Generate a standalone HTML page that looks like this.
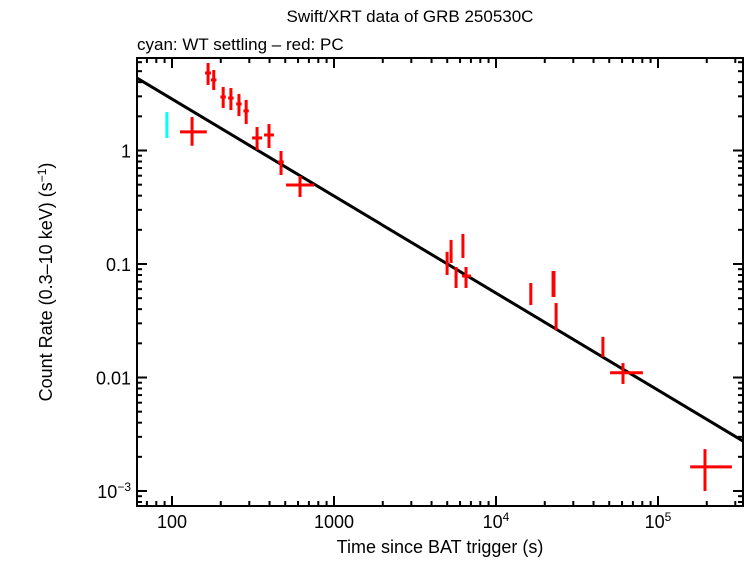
<!DOCTYPE html>
<html><head><meta charset="utf-8"><style>
body{margin:0;background:#fff}
svg text{font-family:"Liberation Sans",sans-serif;fill:#000}
</style></head><body>
<svg id="chart" width="746" height="558" xmlns="http://www.w3.org/2000/svg">
<text x="410" y="22" font-size="17" text-anchor="middle">Swift/XRT data of GRB 250530C</text>
<text x="137" y="50" font-size="17">cyan: WT settling – red: PC</text>
<text x="440" y="553" font-size="18" text-anchor="middle">Time since BAT trigger (s)</text>
<text transform="translate(52,282) rotate(-90)" font-size="18" text-anchor="middle">Count Rate (0.3–10 keV) (s<tspan dy="-6" font-size="12">−1</tspan><tspan dy="6">)</tspan></text>
<g id="grid"></g><g id="marks"></g>
</svg>
<script>
const xTickVals=[100,1000,10000,100000];
const xTickLabels=["100","1000","10^4","10^5"];
const yTickVals=[1,0.1,0.01,0.001];
const yTickLabels=["1","0.1","0.01","10^-3"];
const wtT=[93],wtTlo=[91],wtThi=[95],wtR=[1.68],wtRlo=[1.29],wtRhi=[2.18];
const pcT=[133,167,181,207,231,259,287,335,397,471,617,4990,5280,5670,6250,6530,16400,22500,22800,23500,45700,60800,195000];
const pcTlo=[112,160,174,199,222,249,276,312,370,452,506,4900,5180,5550,6130,6170,16100,22200,22500,23200,45000,50600,158000];
const pcThi=[164,174,188,215,240,269,298,360,426,490,753,5080,5380,5790,6370,7010,16700,22800,23100,23800,46400,80700,286000];
const pcR=[1.46,4.82,4.18,2.96,2.90,2.57,2.23,1.29,1.37,0.792,0.497,0.102,0.133,0.0784,0.147,0.0784,0.0555,0.0723,0.0627,0.0356,0.0186,0.0110,0.00163];
const pcRlo=[1.10,3.78,3.41,2.37,2.27,2.01,1.71,1.01,1.05,0.608,0.389,0.080,0.102,0.0615,0.113,0.0615,0.0435,0.0512,0.0512,0.0262,0.0152,0.00877,0.001];
const pcRhi=[1.97,5.90,5.12,3.63,3.55,3.15,2.79,1.61,1.71,0.990,0.596,0.128,0.163,0.0942,0.184,0.0942,0.068,0.0867,0.0867,0.0453,0.0228,0.0134,0.00234];
const fitNorm=[4.35],fitT0=[60.8],fitSlope=[-0.855];
const L=137,R=743,T=58,B=506;
const X=t=>172+162*(Math.log10(t)-2);
const Y=r=>150.5-113.5*Math.log10(r);
const NS="http://www.w3.org/2000/svg";
const g=document.getElementById('grid'),m=document.getElementById('marks');
function ln(p,x1,y1,x2,y2,c,w){const e=document.createElementNS(NS,'line');e.setAttribute('x1',x1);e.setAttribute('y1',y1);e.setAttribute('x2',x2);e.setAttribute('y2',y2);e.setAttribute('stroke',c);e.setAttribute('stroke-width',w);p.appendChild(e);return e;}
function lbl(s,x,y,anchor){const e=document.createElementNS(NS,'text');e.setAttribute('x',x);e.setAttribute('y',y);e.setAttribute('font-size','18');e.setAttribute('text-anchor',anchor);
 const mm=s.match(/^(\d+)\^(.+)$/);if(mm){e.textContent=mm[1];const ts=document.createElementNS(NS,'tspan');ts.setAttribute('dy','-7');ts.setAttribute('font-size','12');ts.textContent=mm[2].replace('-','−');e.appendChild(ts);}else e.textContent=s;g.appendChild(e);return e;}
const fr=document.createElementNS(NS,'rect');fr.setAttribute('x',L);fr.setAttribute('y',T);fr.setAttribute('width',R-L);fr.setAttribute('height',B-T);fr.setAttribute('fill','none');fr.setAttribute('stroke','#000');fr.setAttribute('stroke-width','2');


g.appendChild(fr);
for(let d=1;d<=5;d++)for(let k=1;k<10;k++){const t=k*Math.pow(10,d);const x=X(t);if(x<L||x>R)continue;const len=k===1?10:5;
 const a=ln(g,x,B,x,B-len,'#000',2);
 const b=ln(g,x,T,x,T+len,'#000',2);}
xTickVals.forEach((v,i)=>{const e=lbl(xTickLabels[i],X(v),528,'middle');});
for(let d=-4;d<=1;d++)for(let k=1;k<10;k++){const r=k*Math.pow(10,d);const y=Y(r);if(y<T||y>B)continue;const len=k===1?10:5;
 const a=ln(g,L,y,L+len,y,'#000',2);
 const b=ln(g,R,y,R-len,y,'#000',2);}
yTickVals.forEach((v,i)=>{const e=lbl(yTickLabels[i],131,Y(v)+7,'end');});
const t1=fitT0[0],t2=Math.pow(10,(R-172)/162+2);
const f=t=>fitNorm[0]*Math.pow(t/fitT0[0],fitSlope[0]);
const fl=ln(m,X(t1),Y(f(t1)),X(t2),Y(f(t2)),'#000',3);


function pts(Ts,Tl,Th,Rs,Rl,Rh,c,name){Ts.forEach((t,i)=>{const gr=document.createElementNS(NS,'g');
 
 
 ln(gr,X(Tl[i]),Y(Rs[i]),X(Th[i]),Y(Rs[i]),c,3);ln(gr,X(t),Y(Rl[i]),X(t),Y(Rh[i]),c,3);m.appendChild(gr);});}
pts(pcT,pcTlo,pcThi,pcR,pcRlo,pcRhi,'#ff0000','pc-data-point');
pts(wtT,wtTlo,wtThi,wtR,wtRlo,wtRhi,'#00ffff','wt-data-point');
</script>
</body></html>
